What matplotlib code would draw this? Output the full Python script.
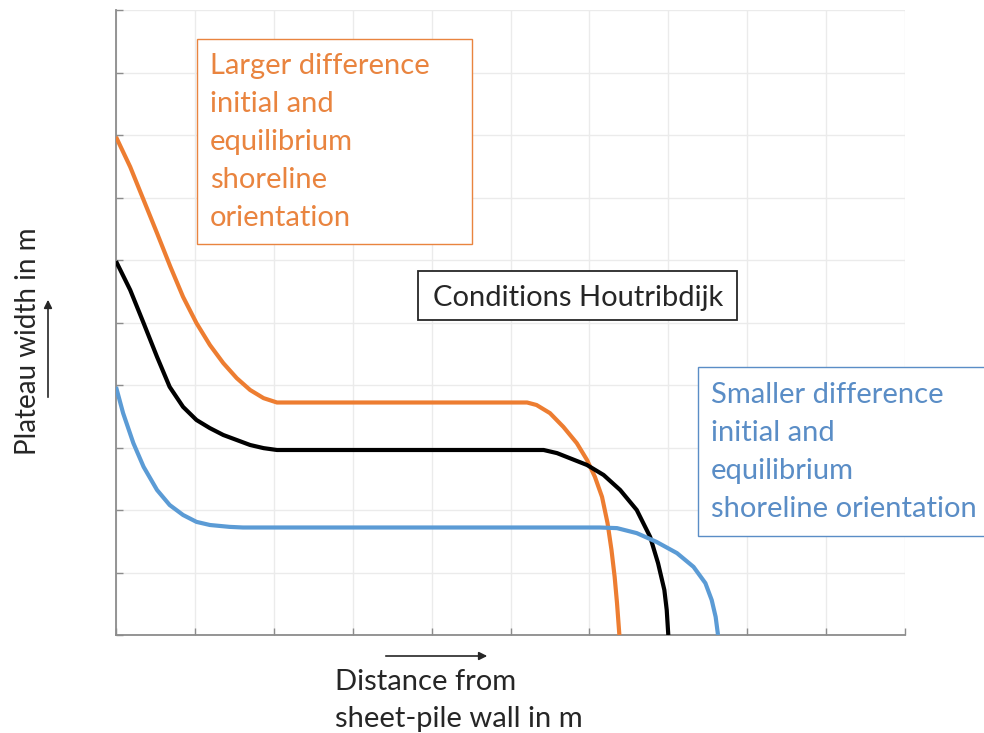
import matplotlib
matplotlib.use("Agg")
import matplotlib.pyplot as plt
from matplotlib.patches import Rectangle, FancyArrowPatch

plt.rcParams['font.family'] = ['Lato', 'DejaVu Sans']

# plateau width curves, read in grid units (10 x 10 grid)
orange_x = [0.0, 0.18, 0.35, 0.52, 0.69, 0.85, 1.02, 1.19, 1.36, 1.53, 1.70, 1.87, 2.04,
            5.21, 5.33, 5.50, 5.67, 5.84, 5.97, 6.07, 6.16, 6.23, 6.28, 6.32, 6.35, 6.38]
orange_y = [7.97, 7.49, 6.96, 6.43, 5.89, 5.41, 4.99, 4.64, 4.35, 4.11, 3.92, 3.79, 3.72,
            3.72, 3.68, 3.55, 3.33, 3.07, 2.80, 2.53, 2.21, 1.79, 1.36, 0.93, 0.51, 0.0]

black_x = [0.0, 0.18, 0.35, 0.52, 0.68, 0.85, 1.02, 1.19, 1.36, 1.53, 1.70, 1.87, 2.04,
           5.42, 5.59, 5.75, 5.97, 6.18, 6.39, 6.60, 6.77, 6.87, 6.95, 6.98, 7.0]
black_y = [5.98, 5.52, 4.99, 4.45, 3.97, 3.65, 3.44, 3.31, 3.20, 3.12, 3.04, 2.99, 2.96,
           2.96, 2.91, 2.83, 2.72, 2.56, 2.32, 2.00, 1.57, 1.15, 0.72, 0.40, 0.0]

blue_x = [0.0, 0.09, 0.22, 0.35, 0.52, 0.68, 0.85, 1.02, 1.19, 1.44, 1.61,
          6.13, 6.35, 6.60, 6.85, 7.11, 7.32, 7.47, 7.55, 7.60, 7.63]
blue_y = [3.97, 3.55, 3.07, 2.69, 2.32, 2.08, 1.92, 1.81, 1.76, 1.73, 1.72,
          1.72, 1.71, 1.63, 1.49, 1.31, 1.09, 0.83, 0.56, 0.29, 0.0]

orange = '#ED7D31'
blue = '#5B9BD5'
txt_orange = '#E9843F'
txt_blue = '#5A8DC6'
dark = '#262626'

orange_lines = ['Larger difference', 'initial and', 'equilibrium', 'shoreline', 'orientation']
blue_lines = ['Smaller difference', 'initial and', 'equilibrium', 'shoreline orientation']
middle_label = 'Conditions Houtribdijk'
xlabel_lines = ['Distance from', 'sheet-pile wall in m']
ylabel = 'Plateau width in m'

W, H = 984, 733
fig = plt.figure(figsize=(W / 100, H / 100), dpi=100)
ax = fig.add_axes([116 / W, (H - 635) / H, 789 / W, 625 / H])

ax.plot(orange_x, orange_y, color=orange, lw=3, solid_capstyle='butt',
        solid_joinstyle='round', zorder=3)
ax.plot(black_x, black_y, color='black', lw=3, solid_capstyle='butt',
        solid_joinstyle='round', zorder=3)
ax.plot(blue_x, blue_y, color=blue, lw=3, solid_capstyle='butt',
        solid_joinstyle='round', zorder=3)

ax.set_xlim(0, 10)
ax.set_ylim(0, 10)
ax.set_xticks(range(11))
ax.set_yticks(range(11))
ax.set_xticklabels([])
ax.set_yticklabels([])
ax.grid(True, color='#ebebeb', lw=1)
ax.set_axisbelow(True)
ax.tick_params(direction='in', length=5, width=1, color='#8c8c8c')
for side in ['top', 'right']:
    ax.spines[side].set_visible(False)
for side in ['left', 'bottom']:
    ax.spines[side].set_color('#8c8c8c')
    ax.spines[side].set_linewidth(1.3)

# overlay in pixel coordinates for the annotation boxes and labels
ov = fig.add_axes([0, 0, 1, 1], facecolor='none')
ov.set_xlim(0, W)
ov.set_ylim(H, 0)
ov.axis('off')

fs = 21
ov.add_patch(Rectangle((197, 39), 275, 205, fc='white', ec=txt_orange, lw=1))
for i, line in enumerate(orange_lines):
    ov.text(210, 74 + 38 * i, line, color=txt_orange, fontsize=fs, va='baseline')

ov.add_patch(Rectangle((698, 367), 300, 169, fc='white', ec=txt_blue, lw=1))
for i, line in enumerate(blue_lines):
    ov.text(711, 403 + 38 * i, line, color=txt_blue, fontsize=fs, va='baseline')

ov.add_patch(Rectangle((418, 271), 319, 49, fc='white', ec=dark, lw=1.3))
ov.text(433, 306, middle_label, color=dark, fontsize=fs, va='baseline')

for i, line in enumerate(xlabel_lines):
    ov.text(335, 690 + 37 * i, line, color=dark, fontsize=fs, va='baseline')
ov.text(28, 341, ylabel, color=dark, fontsize=fs - 1, rotation=90, ha='center', va='center')

ov.add_patch(FancyArrowPatch((383, 656), (490, 656), arrowstyle='-|>', mutation_scale=12,
                             color=dark, lw=1.2))
ov.add_patch(FancyArrowPatch((48, 400), (48, 297), arrowstyle='-|>', mutation_scale=12,
                             color=dark, lw=1.2))

fig.savefig('out.png', dpi=100)
